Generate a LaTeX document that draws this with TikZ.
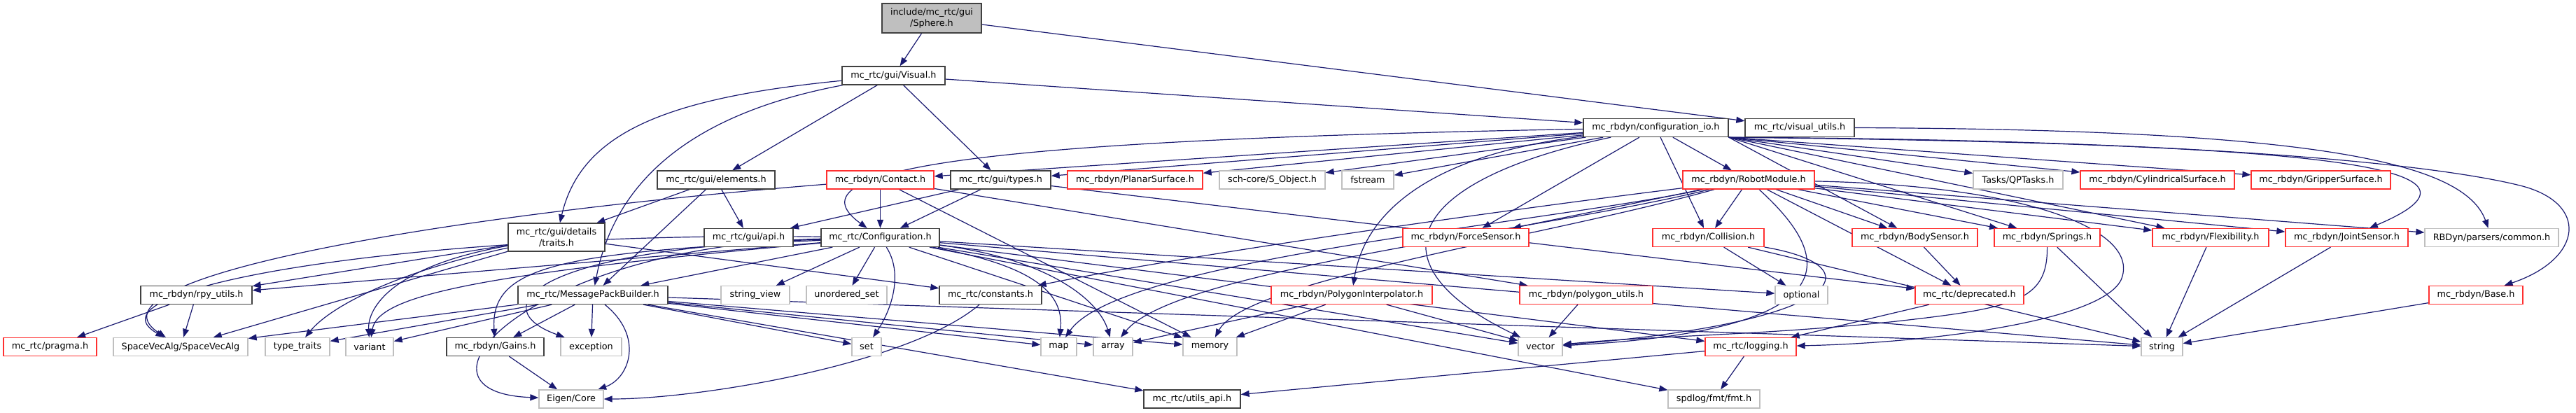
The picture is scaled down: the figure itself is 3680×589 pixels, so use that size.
\documentclass[tikz,border=0pt]{standalone}
\usepackage{fontspec}
\setmainfont{DejaVu Sans}
\usetikzlibrary{arrows.meta,backgrounds}
\definecolor{edgeblue}{HTML}{191970}
\definecolor{nodegray}{HTML}{BFBFBF}
\definecolor{nodedark}{HTML}{404040}
\definecolor{nodered}{HTML}{FF3030}

\begin{document}
\begin{tikzpicture}[x=1pt,y=-1pt,>={Triangle[length=12pt,width=9pt]},
  hdr/.style={draw=nodedark,fill=white,line width=1.3pt,minimum height=26pt,inner sep=0pt,
    font=\fontsize{12.8}{15.5}\selectfont},
  hdrred/.style={hdr,draw=nodered},
  hdrsys/.style={hdr,draw=nodegray},
  hdrroot/.style={hdr,fill=nodegray,align=center},
  dep/.style={->,draw=edgeblue,line width=1.2pt}]
\useasboundingbox (0,0) rectangle (3680,589);

\node[hdrroot,minimum width=142,minimum height=42] (sphere) at (1331,26) {include/mc\_rtc/gui\\/Sphere.h};
\node[hdr,align=center,minimum width=138,minimum height=40] (traits) at (795,339) {mc\_rtc/gui/details\\/traits.h};

\foreach \nm/\px/\py/\bw/\txt in {visual/1276.5/108/147/{mc\_rtc/gui/Visual.h},
    conf/2365.5/182.5/207/{mc\_rbdyn/configuration\_io.h}, vutils/2571/182.5/156/{mc\_rtc/visual\_utils.h},
    elements/1023/257/168/{mc\_rtc/gui/elements.h}, types/1429.5/257/143/{mc\_rtc/gui/types.h},
    api/1069.5/339.5/127/{mc\_rtc/gui/api.h}, config/1257.5/339.5/169/{mc\_rtc/Configuration.h},
    rpy/280.5/421.5/159/{mc\_rbdyn/rpy\_utils.h}, mpb/847/421.5/214/{mc\_rtc/MessagePackBuilder.h},
    constants/1415/421.5/146/{mc\_rtc/constants.h}, gains/707.5/495.5/139/{mc\_rbdyn/Gains.h},
    utilsapi/1703/570/138/{mc\_rtc/utils\_api.h}}
  \node[hdr,minimum width=\bw] (\nm) at (\px,\py) {\txt};

\foreach \nm/\px/\py/\bw/\txt in {contact/1257.5/257/153/{mc\_rbdyn/Contact.h},
    planar/1621.5/257/193/{mc\_rbdyn/PlanarSurface.h}, robotmodule/2498/257/188/{mc\_rbdyn/RobotModule.h},
    cylindrical/3082/257/220/{mc\_rbdyn/CylindricalSurface.h}, gripper/3315.5/257/199/{mc\_rbdyn/GripperSurface.h},
    forcesensor/2094/339.5/180/{mc\_rbdyn/ForceSensor.h}, collision/2440.5/339.5/159/{mc\_rbdyn/Collision.h},
    bodysensor/2735.5/339.5/179/{mc\_rbdyn/BodySensor.h}, springs/2924.5/339.5/151/{mc\_rbdyn/Springs.h},
    flexibility/3158/339.5/166/{mc\_rbdyn/Flexibility.h}, jointsensor/3352.5/339.5/175/{mc\_rbdyn/JointSensor.h},
    polyinterp/1931/421.5/230/{mc\_rbdyn/PolygonInterpolator.h}, polyutils/2266/421.5/190/{mc\_rbdyn/polygon\_utils.h},
    deprecated/2813.5/421.5/155/{mc\_rtc/deprecated.h}, base/3537/421.5/134/{mc\_rbdyn/Base.h},
    pragma/71.5/495.5/133/{mc\_rtc/pragma.h}, logging/2501/495.5/130/{mc\_rtc/logging.h}}
  \node[hdrred,minimum width=\bw] (\nm) at (\px,\py) {\txt};

\foreach \nm/\px/\py/\bw/\txt in {sobject/1817.5/257/151/{sch-core/S\_Object.h}, fstream/1954/257/74/{fstream},
    qptasks/2883/257/128/{Tasks/QPTasks.h}, rbdcommon/3559.5/339.5/191/{RBDyn/parsers/common.h},
    stringview/1079/421.5/98/{string\_view}, unorderedset/1209.5/421.5/115/{unordered\_set},
    optional/2573.5/421.5/75/{optional}, sva/258/495.5/192/{SpaceVecAlg/SpaceVecAlg},
    typetraits/425/495.5/92/{type\_traits}, variant/528/495.5/68/{variant}, exception/844.5/495.5/87/{exception},
    set/1238/495.5/42/{set}, map/1512.5/495.5/51/{map}, array/1590/495.5/56/{array},
    memory/1728.5/495.5/77/{memory}, vector/2200.5/495.5/63/{vector}, string/3088.5/495.5/59/{string},
    eigen/816/570/92/{Eigen/Core}, spdlog/2448.5/570/131/{spdlog/fmt/fmt.h}}
  \node[hdrsys,minimum width=\bw] (\nm) at (\px,\py) {\txt};

\begin{scope}[on background layer]
\foreach \a/\b in {sphere/visual, sphere/vutils, visual/conf, visual/elements, visual/types,
    conf/contact, conf/types, conf/planar, conf/sobject, conf/fstream, conf/robotmodule,
    conf/forcesensor, conf/collision,
    elements/traits, elements/api, elements/mpb, types/api, types/config, types/deprecated,
    contact/config, contact/memory, contact/polyutils,
    robotmodule/forcesensor, robotmodule/collision, robotmodule/bodysensor, robotmodule/springs,
    robotmodule/flexibility, robotmodule/jointsensor, robotmodule/rbdcommon, robotmodule/deprecated,
    traits/rpy, traits/sva, traits/constants,
    config/mpb, config/stringview, config/unorderedset, config/rpy, config/memory, config/vector,
    config/optional, config/logging, config/string, config/spdlog,
    mpb/sva, mpb/typetraits, mpb/variant, mpb/gains, mpb/exception, mpb/set, mpb/map, mpb/array,
    mpb/memory, mpb/string, mpb/utilsapi, rpy/pragma, rpy/sva, gains/eigen,
    polyinterp/memory, polyinterp/array, polyinterp/vector, polyutils/vector,
    collision/optional, collision/string, bodysensor/deprecated, springs/string,
    flexibility/string, jointsensor/string, base/string, deprecated/logging,
    logging/utilsapi, logging/spdlog}
  \draw[dep] (\a) -- (\b);
\foreach \b in {qptasks, cylindrical, gripper, bodysensor, springs, flexibility}
  \draw[dep] (conf.south east) -- (\b);
\draw[dep] (visual) .. controls (950,140) and (830,190) .. (traits);
\draw[dep] (visual) .. controls (1000,160) and (880,250) .. (mpb);
\draw[dep] (vutils.east) .. controls (3300,185) and (3520,230) .. (rbdcommon);
\draw[dep] (conf) .. controls (1400,200) and (1120,240) .. (config);
\draw[dep] (conf) .. controls (2050,220) and (1950,300) .. (polyinterp);
\draw[dep] (conf) .. controls (2000,260) and (1960,380) .. (vector);
\draw[dep] (conf.south east) .. controls (3300,205) and (3600,235) .. (jointsensor);
\draw[dep] (conf.south east) .. controls (3200,200) and (3500,240) .. (3600,265)
  .. controls (3700,290) and (3690,370) .. (base);
\draw[dep] (robotmodule) .. controls (2150,300) and (1720,360) .. (constants);
\draw[dep] (robotmodule) .. controls (2200,320) and (1600,370) .. (map);
\draw[dep] (robotmodule) .. controls (2200,330) and (1680,385) .. (array);
\draw[dep] (robotmodule) .. controls (2200,340) and (1780,400) .. (memory);
\draw[dep] (contact) .. controls (600,310) and (110,400) .. (sva);
\draw[dep] (config) .. controls (600,330) and (110,410) .. (sva);
\draw[dep] (config) .. controls (800,360) and (700,380) .. (gains);
\draw[dep] (config) .. controls (760,355) and (690,440) .. (exception);
\draw[dep] (config) .. controls (760,350) and (560,560) .. (eigen);
\draw[dep] (config) .. controls (700,390) and (540,420) .. (variant);
\draw[dep] (config) .. controls (1290,390) and (1275,440) .. (set);
\draw[dep] (config) .. controls (1480,380) and (1520,420) .. (map);
\draw[dep] (config) .. controls (1500,370) and (1570,430) .. (array);
\draw[dep] (traits) .. controls (560,390) and (470,440) .. (typetraits);
\draw[dep] (traits) .. controls (560,380) and (525,440) .. (variant);
\draw[dep] (mpb) .. controls (920,480) and (900,540) .. (eigen);
\draw[dep] (constants) .. controls (1300,520) and (1000,570) .. (eigen);
\draw[dep] (robotmodule) .. controls (2600,350) and (2680,470) .. (vector);
\draw[dep] (collision) .. controls (2680,380) and (2640,460) .. (vector);
\draw[dep] (springs) .. controls (2925,430) and (2880,440) .. (2700,460)
  .. controls (2500,480) and (2350,480) .. (vector);
\draw[dep] (robotmodule) .. controls (2900,265) and (3060,330) .. (3030,400)
  .. controls (3000,460) and (2750,490) .. (logging);
\end{scope}
\end{tikzpicture}
\end{document}
